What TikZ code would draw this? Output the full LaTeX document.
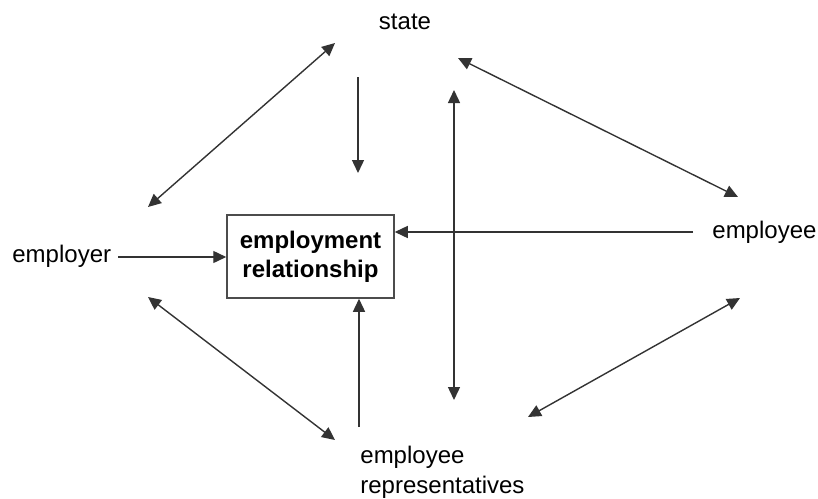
\documentclass[tikz,border=0pt]{standalone}
\usepackage{fontspec}
\setmainfont{Liberation Sans}
\usetikzlibrary{arrows.meta}
\tikzset{
  lbl/.style={inner sep=0pt, font=\fontsize{12}{15}\selectfont},
  relbox/.style={draw=black!70, line width=0.75pt, minimum width=83.5pt, minimum height=41.5pt,
    inner sep=0pt, align=center, font=\fontsize{12}{14.5}\selectfont\bfseries},
  link/.style={draw=black!80, line width=0.7pt, -{Triangle[length=6.5pt,width=6pt]}},
  both/.style={link, {Triangle[length=6.5pt,width=6pt]}-{Triangle[length=6.5pt,width=6pt]}}
}
\begin{document}
\begin{tikzpicture}[x=0.5pt,y=-0.5pt]
  \useasboundingbox (0,0) rectangle (818,498);

  % actors
  \node[lbl] (state) at (405,22) {state};
  \node[lbl,anchor=west] (employer) at (12,256) {employer};
  \node[lbl,anchor=west] (employee) at (712,232) {employee};
  \node[lbl,anchor=north west,align=left] (reps) at (360,446) {employee\\representatives};
  \node[relbox] (rel) at (310.5,256.5) {employment\\relationship};

  % free ends of the arrows
  \coordinate (sl1) at (335,43);  \coordinate (sl2) at (148,207);
  \coordinate (sd1) at (358,77);  \coordinate (sd2) at (358,173);
  \coordinate (vt1) at (454,90);  \coordinate (vt2) at (454,400);
  \coordinate (sr1) at (458,58);  \coordinate (sr2) at (738,197);
  \coordinate (ee) at (693,232);
  \coordinate (er) at (118,257);
  \coordinate (bl1) at (148,297); \coordinate (bl2) at (335,440);
  \coordinate (rp) at (359,427);
  \coordinate (br1) at (740,298); \coordinate (br2) at (528,417);

  \draw[both] (sl1) -- (sl2);
  \draw[link] (sd1) -- (sd2);
  \draw[both] (vt1) -- (vt2);
  \draw[both] (sr1) -- (sr2);
  \draw[link] (ee) -- (ee -| rel.east);
  \draw[link] (er) -- (er -| rel.west);
  \draw[both] (bl1) -- (bl2);
  \draw[link] (rp) -- (rp |- rel.south);
  \draw[both] (br1) -- (br2);
\end{tikzpicture}
\end{document}
